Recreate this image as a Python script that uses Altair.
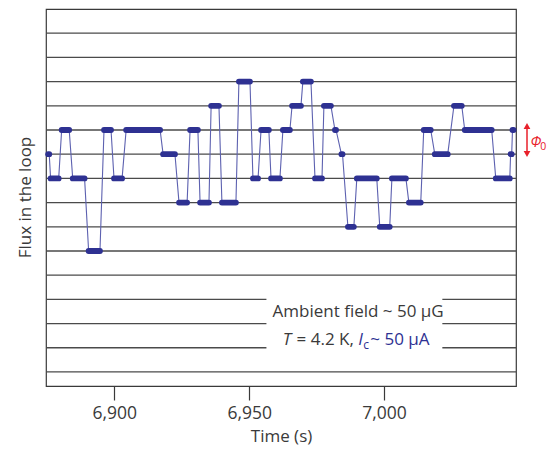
import altair as alt
import pandas as pd

# ---- data ----
seg_start = [6875.5, 6876.4, 6880.5, 6884.6, 6890.5, 6896.2, 6899.9, 6904.4, 6918.1, 6924.0,
             6928.1, 6931.8, 6935.9, 6939.9, 6946.2, 6951.4, 6954.4, 6958.1, 6962.5, 6965.9,
             6969.9, 6974.4, 6977.7, 6981.8, 6984.2, 6986.6, 6989.9, 6998.4, 7002.9, 7009.2,
             7014.7, 7018.8, 7025.9, 7029.9, 7041.4, 7046.9, 7047.6]
seg_end = [6875.9, 6879.4, 6883.3, 6889.0, 6894.7, 6898.8, 6902.9, 6917.0, 6922.5, 6927.0,
           6931.0, 6935.1, 6938.8, 6945.1, 6950.3, 6953.3, 6957.3, 6961.4, 6965.1, 6969.2,
           6972.9, 6977.0, 6980.3, 6982.2, 6984.6, 6988.8, 6997.3, 7002.1, 7008.1, 7013.6,
           7017.3, 7023.6, 7028.8, 7039.9, 7046.6, 7047.3, 7048.0]
seg_level = [9, 8, 10, 8, 5, 10, 8, 10, 9, 7,
             10, 7, 11, 7, 12, 8, 10, 8, 10, 11,
             12, 8, 11, 10, 9, 6, 8, 6, 8, 7,
             10, 9, 11, 10, 8, 9, 10]

grid_levels = list(range(0, 15))
gap_levels = [1, 2, 3]
x_lo, x_hi = 6874.7, 7048.9
gap_lo, gap_hi = 6956.4, 7021.6
x_ticks = [6900, 6950, 7000]

# ---- styles ----
W, H = 470, 377
BLUE = "#2e3192"
LINE_BLUE = "#5d61b0"
GREY = "#3a3a3a"
GRID = "#4a4a4a"
RED = "#e8212b"
FONT = "Open Sans"
FS = 17

seg = pd.DataFrame({"t0": seg_start, "t1": seg_end, "lev": seg_level})
rows = []
for i, (a, b, l) in enumerate(zip(seg_start, seg_end, seg_level)):
    rows.append({"t": a, "lev": l, "o": 2 * i})
    rows.append({"t": b, "lev": l, "o": 2 * i + 1})
path = pd.DataFrame(rows)

grows = []
for l in grid_levels:
    if l in gap_levels:
        grows.append({"lev": l, "a": x_lo, "b": gap_lo})
        grows.append({"lev": l, "a": gap_hi, "b": x_hi})
    else:
        grows.append({"lev": l, "a": x_lo, "b": x_hi})
grid = pd.DataFrame(grows)

xs = alt.Scale(domain=[x_lo, x_hi], nice=False, zero=False)
ys = alt.Scale(domain=[-0.58, 15], nice=False, zero=False)
xaxis = alt.Axis(values=x_ticks, format=",d", tickSize=14, tickColor=GREY, tickWidth=1.2,
                 domain=False, grid=False, labelFont=FONT, labelFontSize=17.5, labelColor=GREY,
                 labelPadding=4, title="Time (s)", titleFont=FONT, titleFontSize=FS,
                 titleFontWeight="normal", titleColor=GREY, titlePadding=7)

gridc = alt.Chart(grid).mark_rule(color=GRID, strokeWidth=1.3).encode(
    x=alt.X("a:Q", scale=xs, axis=xaxis), x2="b:Q",
    y=alt.Y("lev:Q", scale=ys, axis=None))

line = alt.Chart(path).mark_line(color=LINE_BLUE, strokeWidth=1.1).encode(
    x=alt.X("t:Q", scale=xs, axis=xaxis),
    y=alt.Y("lev:Q", scale=ys, axis=None),
    order="o:Q")

blobs = alt.Chart(seg).mark_rule(color=BLUE, strokeWidth=5.8, strokeCap="round").encode(
    x=alt.X("t0:Q", scale=xs, axis=xaxis), x2="t1:Q",
    y=alt.Y("lev:Q", scale=ys, axis=None))

one = pd.DataFrame({"k": [0]})


def txt(s, x, y, color=GREY, size=FS, style="normal", align="left", angle=0, baseline="alphabetic"):
    return alt.Chart(one).mark_text(text=s, font=FONT, fontSize=size, fontStyle=style, color=color,
                                    align=align, baseline=baseline, angle=angle).encode(
        x=alt.value(x), y=alt.value(y))


ytitle = txt("Flux in the loop", -20.5, 188.5, align="center", angle=270, baseline="middle")
t1 = txt("Ambient field ~ 50 \u00b5G", 226.5, 308.3)
t2a = txt("T", 236.8, 336, style="italic")
t2b = txt("= 4.2 K,", 250.6, 336)
t2c = txt("I", 312.3, 336, color=BLUE, style="italic")
t2d = txt("c", 317.3, 339.5, color=BLUE, size=12)
t2e = txt("~ 50 \u00b5A", 324.3, 336, color=BLUE)

arrow = alt.Chart(one).mark_rule(color=RED, strokeWidth=1.5).encode(
    x=alt.value(481.0), y=alt.value(117), y2=alt.value(145))
head_up = alt.Chart(one).mark_point(shape="triangle-up", filled=True, size=45, color=RED, opacity=1).encode(
    x=alt.value(481.0), y=alt.value(117))
head_dn = alt.Chart(one).mark_point(shape="triangle-down", filled=True, size=45, color=RED, opacity=1).encode(
    x=alt.value(481.0), y=alt.value(145))
phi = txt("\u03a6", 484.5, 138, color=RED, size=14.5, style="italic")
phi0 = txt("0", 494.3, 141, color=RED, size=10.5)

chart = alt.layer(gridc, line, blobs, ytitle, t1, t2a, t2b, t2c, t2d, t2e,
                  arrow, head_up, head_dn, phi, phi0).properties(
    width=W, height=H,
    autosize=alt.AutoSizeParams(type="none"),
    padding={"left": 38, "top": 1, "right": 31, "bottom": 60},
).configure_view(stroke=GREY, strokeWidth=1.2)

chart.save("out.html", embed_options={"renderer": "svg", "actions": False})
